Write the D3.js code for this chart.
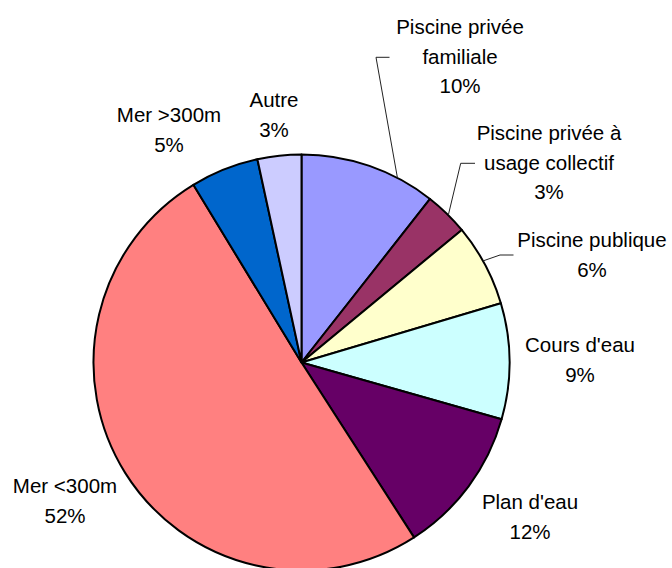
<!DOCTYPE html>
<html>
<head>
<meta charset="utf-8">
<script src="https://cdn.jsdelivr.net/npm/d3@7"></script>
<style>
	html, body { margin: 0; padding: 0; background: #fff; }
	svg { display: block; }
	.label { font-family: "Liberation Sans", Arial, sans-serif; font-size: 20.5px; fill: #000; }
</style>
</head>
<body>
<div id="app"></div>
<script>
// data
const categories = [
	'Piscine privée familiale',
	'Piscine privée à usage collectif',
	'Piscine publique',
	"Cours d'eau",
	"Plan d'eau",
	'Mer <300m',
	'Mer >300m',
	'Autre'
];
// slice sizes (share of the circle, %)
const values = [10.6, 3.4, 6.4, 9.0, 11.5, 50.4, 5.3, 3.4];
// percentages printed on the labels
const percentLabels = ['10%', '3%', '6%', '9%', '12%', '52%', '5%', '3%'];
// label text broken into lines as in the chart
const labelLines = [
	['Piscine privée', 'familiale'],
	['Piscine privée à', 'usage collectif'],
	['Piscine publique'],
	["Cours d'eau"],
	["Plan d'eau"],
	['Mer <300m'],
	['Mer >300m'],
	['Autre']
];
const colours = ['#9999FF', '#993366', '#FFFFCC', '#CCFFFF', '#660066', '#FF8080', '#0066CC', '#CCCCFF'];

const width = 672;
const height = 568;
const cx = 301.5;
const cy = 362.5;
const radius = 208;
const lineHeight = 29.5;

// label anchor: centre x and baseline of the first line
const labelPos = [
	{x: 460, y: 34},
	{x: 549, y: 140},
	{x: 592, y: 247},
	{x: 580, y: 352},
	{x: 530, y: 509},
	{x: 65, y: 493},
	{x: 169, y: 122},
	{x: 274, y: 107}
];

// leader lines for the small top-right slices: [angle offset in slice (0-1), elbow, end]
const leaders = {
	0: {t: 0.72, elbow: [376, 57.3], end: [389.5, 57.3]},
	1: {t: 0.55, elbow: [460.7, 163.3], end: [475, 163.3]},
	2: {t: 0.45, elbow: [500, 255], end: [513.5, 255]}
};

const svg = d3.select('#app')
	.append('svg')
	.attr('width', width)
	.attr('height', height);

const pie = d3.pie()
	.sort(null)
	.value(d => d);

const arcs = pie(values);

const arc = d3.arc()
	.innerRadius(0)
	.outerRadius(radius);

const g = svg.append('g')
	.attr('transform', `translate(${cx},${cy})`);

g.selectAll('path')
	.data(arcs)
	.join('path')
	.attr('d', arc)
	.attr('fill', (d, i) => colours[i])
	.attr('stroke', '#000')
	.attr('stroke-width', 2)
	.attr('stroke-linejoin', 'round');

// leader lines
Object.keys(leaders).forEach(k => {
	const a = arcs[k];
	const l = leaders[k];
	const ang = a.startAngle + (a.endAngle - a.startAngle) * l.t;
	const start = [cx + radius * Math.sin(ang), cy - radius * Math.cos(ang)];
	svg.append('path')
		.attr('d', d3.line()([start, l.elbow, l.end]))
		.attr('fill', 'none')
		.attr('stroke', '#222')
		.attr('stroke-width', 1);
});

// labels
categories.forEach((c, i) => {
	const lines = labelLines[i].concat([percentLabels[i]]);
	const text = svg.append('text')
		.attr('class', 'label')
		.attr('text-anchor', 'middle')
		.attr('x', labelPos[i].x)
		.attr('y', labelPos[i].y);
	lines.forEach((s, j) => {
		text.append('tspan')
			.attr('x', labelPos[i].x)
			.attr('dy', j === 0 ? 0 : lineHeight)
			.text(s);
	});
});
</script>
</body>
</html>
